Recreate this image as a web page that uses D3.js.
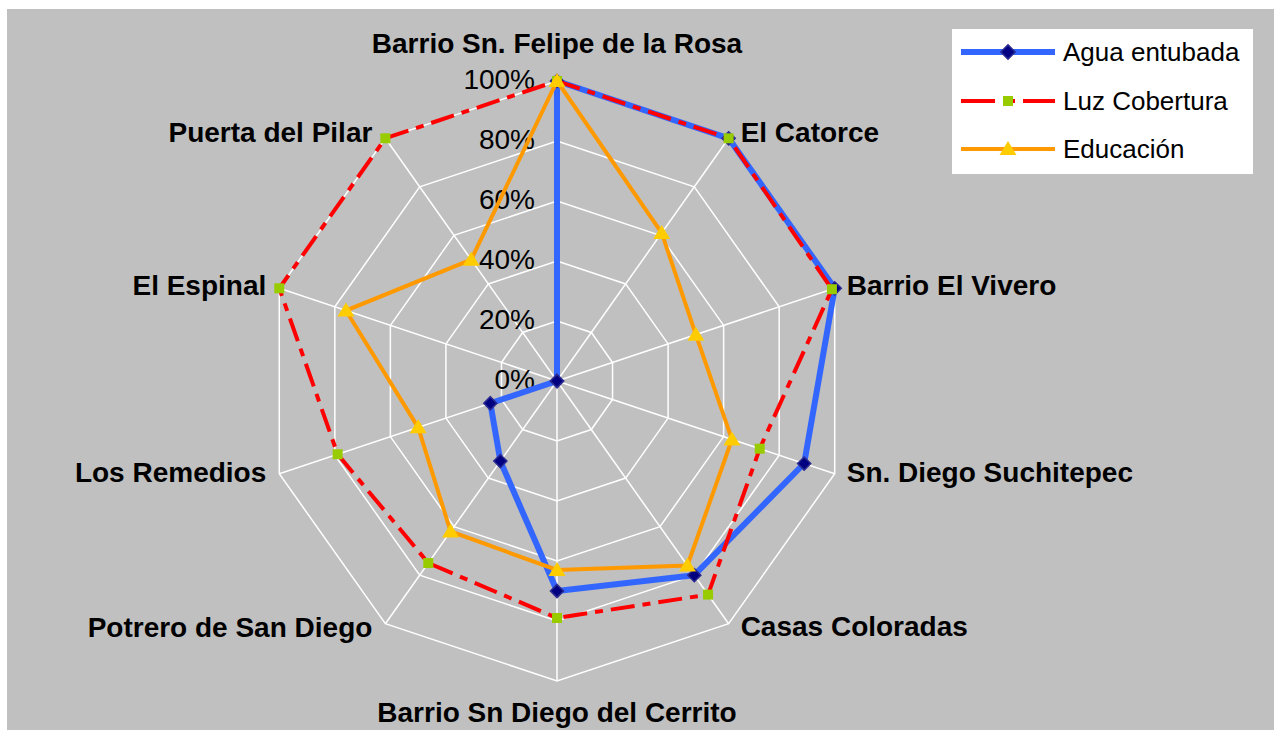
<!DOCTYPE html>
<html>
<head>
<meta charset="utf-8">
<script src="https://cdn.jsdelivr.net/npm/d3@7"></script>
<style>
  body { margin: 0; background: #ffffff; }
  text { font-family: Arial, "Liberation Sans", sans-serif; }
</style>
</head>
<body>
<svg id="chart" width="1274" height="730"></svg>
<script>
// categories, clockwise from the top
var categories = [
    "Barrio Sn. Felipe de la Rosa",
    "El Catorce",
    "Barrio El Vivero",
    "Sn. Diego Suchitepec",
    "Casas Coloradas",
    "Barrio Sn Diego del Cerrito",
    "Potrero de San Diego",
    "Los Remedios",
    "El Espinal",
    "Puerta del Pilar"
];

var agua = [100, 100, 100, 89, 80, 70, 33, 24, 0, 0];
var luz = [100, 100, 99, 73, 88, 79, 75, 79, 100, 100];
var educacion = [100, 61, 50, 63, 76, 63, 62, 50, 76, 50];

var tickValues = [0, 20, 40, 60, 80, 100];
var tickLabels = ["0%", "20%", "40%", "60%", "80%", "100%"];

var seriesNames = ["Agua entubada", "Luz Cobertura", "Educación"];

var svg = d3.select("#chart");
var cx = 557, cy = 381;

// the plot is a bit squashed horizontally, so two radial scales
var rX = d3.scaleLinear().domain([0, 100]).range([0, 292]);
var rY = d3.scaleLinear().domain([0, 100]).range([0, 300]);
var angle = d3.scaleLinear().domain([0, categories.length]).range([0, 2 * Math.PI]);

function px(i, v) { return cx + rX(v) * Math.sin(angle(i)); }
function py(i, v) { return cy - rY(v) * Math.cos(angle(i)); }

// background
svg.append("rect")
    .attr("x", 7).attr("y", 9)
    .attr("width", 1267).attr("height", 721)
    .attr("fill", "#c0c0c0");

var grid = svg.append("g");

// rings
tickValues.slice(1).forEach(function(t) {
    var pts = categories.map(function(c, i) { return [px(i, t), py(i, t)]; });
    grid.append("polygon")
        .attr("points", pts.map(function(p) { return p.join(","); }).join(" "))
        .attr("fill", "none")
        .attr("stroke", "#ffffff")
        .attr("stroke-width", 1.5);
});

// spokes
categories.forEach(function(c, i) {
    grid.append("line")
        .attr("x1", cx).attr("y1", cy)
        .attr("x2", px(i, 100)).attr("y2", py(i, 100))
        .attr("stroke", "#ffffff")
        .attr("stroke-width", 1.5);
});

// percent labels
tickValues.forEach(function(t, k) {
    svg.append("text")
        .text(tickLabels[k])
        .attr("x", 535)
        .attr("y", cy - rY(t) - 2)
        .attr("text-anchor", "end")
        .attr("dominant-baseline", "central")
        .attr("font-size", 28)
        .attr("fill", "#000000");
});

// category labels
var labelDy = [-28, -6, -3, -1, 3, 41, 4, -1, -3, -6];
categories.forEach(function(c, i) {
    var x = px(i, 100), y = py(i, 100);
    var t = svg.append("text")
        .text(c)
        .attr("font-size", 28)
        .attr("font-weight", "bold")
        .attr("fill", "#000000")
        .attr("y", y + labelDy[i]);
    if (i == 0 || i == 5) {
        t.attr("x", x).attr("text-anchor", "middle");
    } else if (i < 5) {
        t.attr("x", x + 12).attr("text-anchor", "start").attr("dominant-baseline", "central");
    } else {
        t.attr("x", x - 13).attr("text-anchor", "end").attr("dominant-baseline", "central");
    }
});

var line = d3.line()
    .x(function(d) { return px(d.i, d.v); })
    .y(function(d) { return py(d.i, d.v); })
    .curve(d3.curveLinearClosed);

function toPoints(values) {
    return values.map(function(v, i) { return { i: i, v: v }; });
}

var diamond = d3.symbol().type(d3.symbolDiamond2);
var triangle = "M0,-8 L8.5,6 L-8.5,6 Z";

// Agua entubada
svg.append("path")
    .attr("d", line(toPoints(agua)))
    .attr("fill", "none")
    .attr("stroke", "#3366ff")
    .attr("stroke-width", 6)
    .attr("stroke-linejoin", "round");
svg.selectAll(".agua").data(toPoints(agua)).enter().append("path")
    .attr("class", "agua")
    .attr("d", diamond.size(110)())
    .attr("transform", function(d) { return "translate(" + px(d.i, d.v) + "," + py(d.i, d.v) + ")"; })
    .attr("fill", "#000080")
    .attr("stroke", "#2a2a90")
    .attr("stroke-width", 1.5);

// Luz Cobertura
svg.append("path")
    .attr("d", line(toPoints(luz)))
    .attr("fill", "none")
    .attr("stroke", "#ff0000")
    .attr("stroke-width", 4)
    .attr("stroke-dasharray", "24,8,8,8");
svg.selectAll(".luz").data(toPoints(luz)).enter().append("rect")
    .attr("class", "luz")
    .attr("x", function(d) { return px(d.i, d.v) - 5; })
    .attr("y", function(d) { return py(d.i, d.v) - 5; })
    .attr("width", 10).attr("height", 10)
    .attr("fill", "#99cc00");

// Educacion
svg.append("path")
    .attr("d", line(toPoints(educacion)))
    .attr("fill", "none")
    .attr("stroke", "#ff9900")
    .attr("stroke-width", 4);
svg.selectAll(".edu").data(toPoints(educacion)).enter().append("path")
    .attr("class", "edu")
    .attr("d", triangle)
    .attr("transform", function(d) { return "translate(" + px(d.i, d.v) + "," + py(d.i, d.v) + ")"; })
    .attr("fill", "#ffcc00");

// legend
var legend = svg.append("g");
legend.append("rect")
    .attr("x", 952).attr("y", 29)
    .attr("width", 301).attr("height", 145)
    .attr("fill", "#ffffff");

var rowY = [52, 101, 149];
seriesNames.forEach(function(name, k) {
    var y = rowY[k];
    var l = legend.append("line")
        .attr("x1", 961).attr("x2", 1055)
        .attr("y1", y).attr("y2", y);
    if (k == 0) {
        l.attr("stroke", "#3366ff").attr("stroke-width", 6);
        legend.append("path")
            .attr("d", diamond.size(130)())
            .attr("transform", "translate(1008," + y + ")")
            .attr("fill", "#000080")
            .attr("stroke", "#2a2a90")
            .attr("stroke-width", 1.5);
    } else if (k == 1) {
        l.attr("stroke", "#ff0000").attr("stroke-width", 4)
            .attr("stroke-dasharray", "34,8,12,8");
        legend.append("rect")
            .attr("x", 1003).attr("y", y - 5)
            .attr("width", 10).attr("height", 10)
            .attr("fill", "#99cc00");
    } else {
        l.attr("stroke", "#ff9900").attr("stroke-width", 4);
        legend.append("path")
            .attr("d", triangle)
            .attr("transform", "translate(1008," + y + ")")
            .attr("fill", "#ffcc00");
    }
    legend.append("text")
        .text(name)
        .attr("x", 1063)
        .attr("y", y)
        .attr("dominant-baseline", "central")
        .attr("font-size", 26)
        .attr("fill", "#000000");
});
</script>
</body>
</html>
